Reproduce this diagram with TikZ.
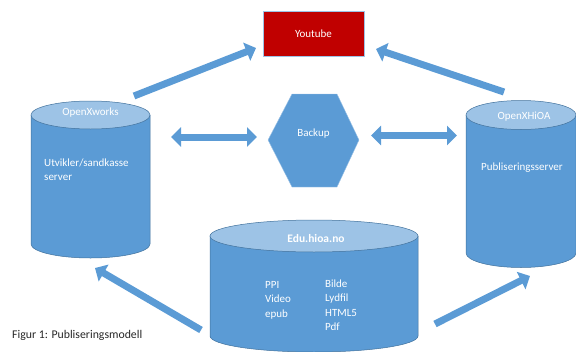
\documentclass[tikz,border=0pt]{standalone}
\usepackage{fontspec}
\setmainfont{Carlito}
\usetikzlibrary{arrows.meta}
\definecolor{cylblue}{HTML}{5B9BD5}
\definecolor{cyllight}{HTML}{9DC3E6}
\definecolor{cyledge}{HTML}{41719C}
\definecolor{ytred}{HTML}{C00000}
\tikzset{
  label/.style={font=\fontsize{11}{14.5}\selectfont, text=white, inner sep=0pt},
  blockarrow/.style={line width=7pt, draw=cylblue, -{Triangle[width=19pt,length=10pt]}},
  twoway/.style={line width=7pt, draw=cylblue, {Triangle[width=19pt,length=10pt]}-{Triangle[width=19pt,length=10pt]}}
}
% cylinder: centre x, top y, bottom y, x radius, y radius
\newcommand{\dbcyl}[5]{%
  \fill[cylblue] (#1-#4,#2) -- (#1-#4,#3) arc[start angle=180,end angle=0,x radius=#4,y radius=#5] -- (#1+#4,#2) -- cycle;
  \draw[cyledge, line width=0.5pt] (#1-#4,#2) -- (#1-#4,#3) arc[start angle=180,end angle=0,x radius=#4,y radius=#5] -- (#1+#4,#2);
  \filldraw[fill=cyllight, draw=cyledge, line width=0.5pt] (#1,#2) ellipse[x radius=#4,y radius=#5];}
\begin{document}
\begin{tikzpicture}[x=1pt,y=-1pt]
  \useasboundingbox (0,0) rectangle (576,351);
  % servers
  \dbcyl{90.5}{115}{244}{59.5}{14}
  \dbcyl{521}{115}{253}{55}{14.5}
  \dbcyl{314}{236}{336}{104}{16}
  \node[label] (xworks) at (90.5,113) {OpenXworks};
  \node[label, anchor=west, align=left] (xworksinfo) at (44,169.5) {Utvikler/sandkasse\\server};
  \node[label] (xhioa) at (524,117) {OpenXHiOA};
  \node[label] (xhioainfo) at (522,168) {Publiseringsserver};
  \node[label, font=\fontsize{11.5}{14.5}\selectfont\bfseries] (edu) at (316,239) {Edu.hioa.no};
  \node[label, anchor=west, align=left] (formats) at (265,300) {PPI\\Video\\epub};
  \node[label, anchor=west, align=left] (media) at (325,305) {Bilde\\Lydfil\\HTML5\\Pdf};
  % youtube and backup
  \node[fill=ytred, draw=cyllight, line width=0.4pt, minimum width=101pt, minimum height=45pt,
    label] (youtube) at (313.5,33.5) {Youtube};
  \filldraw[fill=cylblue, draw=cyllight, line width=0.4pt]
    (268,140) -- (292,94) -- (337,94) -- (359,140) -- (337,187) -- (292,187) -- cycle;
  \node[label] (backup) at (313.5,134) {Backup};
  % arrow ends
  \coordinate (xw-out) at (134,96);
  \coordinate (yt-left) at (256,48);
  \coordinate (xh-out) at (504,92);
  \coordinate (yt-right) at (376,49);
  \coordinate (xw-side) at (171,137);
  \coordinate (bk-left) at (257,137);
  \coordinate (bk-right) at (371,135.5);
  \coordinate (xh-side) at (457,135.5);
  \coordinate (edu-left) at (201,330);
  \coordinate (xw-in) at (95,268);
  \coordinate (edu-right) at (435,324);
  \coordinate (xh-in) at (530,276);
  \draw[blockarrow] (xw-out) -- (yt-left);
  \draw[blockarrow] (xh-out) -- (yt-right);
  \draw[twoway] (xw-side) -- (bk-left);
  \draw[twoway] (bk-right) -- (xh-side);
  \draw[blockarrow] (edu-left) -- (xw-in);
  \draw[blockarrow] (edu-right) -- (xh-in);
  \node[anchor=west, inner sep=0pt, font=\fontsize{11.8}{13}\selectfont, text=black!85] (caption) at (12,335) {Figur 1: Publiseringsmodell};
\end{tikzpicture}
\end{document}
